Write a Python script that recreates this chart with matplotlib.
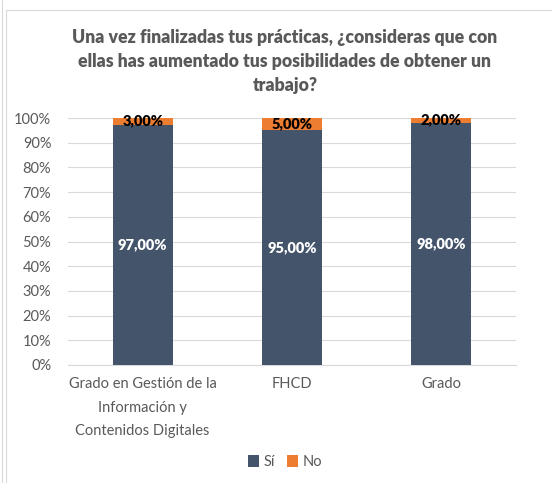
import matplotlib.pyplot as plt
from matplotlib.patches import Rectangle
from matplotlib.lines import Line2D
from matplotlib.ticker import PercentFormatter

categories = ["Grado en Gestión de la\nInformación y\nContenidos Digitales", "FHCD", "Grado"]
si_values = [97.0, 95.0, 98.0]
no_values = [3.0, 5.0, 2.0]

SI_COLOR = "#44546A"
NO_COLOR = "#ED7D31"
TEXT_COLOR = "#595959"

plt.rcParams['font.family'] = ['Lato', 'DejaVu Sans']

fig = plt.figure(figsize=(5.52, 4.83), dpi=100)
W, H = 552, 483

# thin frames around the chart area
fig.add_artist(Line2D([2 / W, 2 / W], [0, 1], color="#D9D9D9", lw=0.8))
fig.add_artist(Rectangle((6 / W, -0.1), 1.2, 1.1 - 10 / H, fill=False,
                         edgecolor="#D9D9D9", lw=0.8))

ax = fig.add_axes([68 / W, 118 / H, (516 - 68) / W, (365 - 118) / H])

x = range(len(categories))
bars_si = ax.bar(x, si_values, width=0.4, color=SI_COLOR, label="Sí", zorder=3)
bars_no = ax.bar(x, no_values, width=0.4, bottom=si_values, color=NO_COLOR,
                 label="No", zorder=3)

for rect, v in zip(bars_si, si_values):
    ax.text(rect.get_x() + rect.get_width() / 2, rect.get_height() / 2,
            f"{v:.2f}%".replace(".", ","), ha="center", va="center",
            color="white", fontsize=10.5, fontweight="heavy", zorder=4)
for rect, b, v in zip(bars_no, si_values, no_values):
    ax.text(rect.get_x() + rect.get_width() / 2, b + v / 2 + 0.3,
            f"{v:.2f}%".replace(".", ","), ha="center", va="center",
            color="black", fontsize=10.5, fontweight="heavy", zorder=4)

ax.set_xlim(-0.5, 2.5)
ax.set_ylim(0, 100)
ax.set_yticks(range(0, 101, 10))
ax.yaxis.set_major_formatter(PercentFormatter(decimals=0))
ax.set_xticks(list(x))
ax.set_xticklabels(categories, linespacing=1.85)
ax.tick_params(axis="both", length=0, colors=TEXT_COLOR, labelsize=10.5)
ax.tick_params(axis="x", pad=9)
ax.tick_params(axis="y", pad=12)
ax.grid(axis="y", color="#D9D9D9", lw=0.8, zorder=0)
for side in ["top", "right", "left"]:
    ax.spines[side].set_visible(False)
ax.spines["bottom"].set_color("#D9D9D9")

fig.text(285 / W, 1 - 61 / H,
         "Una vez finalizadas tus prácticas, ¿consideras que con\n"
         "ellas has aumentado tus posibilidades de obtener un\ntrabajo?",
         ha="center", va="center", fontsize=12.7, fontweight="heavy",
         color=TEXT_COLOR, linespacing=1.5)

fig.legend(loc="center", bbox_to_anchor=(285 / W, 1 - 462 / H), ncol=2,
           frameon=False, fontsize=10.5, handlelength=0.8, handleheight=0.8,
           handletextpad=0.3, columnspacing=0.8, labelcolor=TEXT_COLOR)

fig.savefig("out.png", dpi=100)
